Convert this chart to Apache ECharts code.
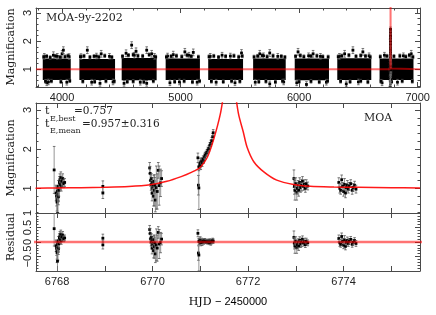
<!DOCTYPE html>
<html><head><meta charset="utf-8">
<script src="https://cdn.jsdelivr.net/npm/echarts@6/dist/echarts.min.js"></script>
<style>html,body{margin:0;padding:0;background:#fff}#c{width:436px;height:315px}</style>
</head><body><div id="c"></div>
<script>
// ---------- data ----------
// top panel: observing seasons (dense scatter blocks)
var seasonStart = [3837, 4146, 4503, 4874, 5233, 5612, 5963, 6322, 6679];
var seasonEnd   = [4073, 4447, 4798, 5163, 5527, 5887, 6252, 6609, 6965];
var seasonLo    = [0.62, 0.62, 0.61, 0.62, 0.62, 0.62, 0.61, 0.62, 0.62];
var seasonHi    = [1.38, 1.37, 1.40, 1.38, 1.37, 1.38, 1.38, 1.39, 1.38];
// top panel: outlying points at the edges of the seasons
var topOutT = [3850,3885,3927,3960,4000,4011,4040,4060,3871,
  4160,4213,4250,4290,4320,4330,4400,4430,
  4523,4540,4587,4610,4624,4660,4714,4714,4756,4780,
  4890,4910,4938,4990,5036,5070,5107,5140,
  5250,5300,5350,5420,5459,5514,
  5630,5668,5700,5752,5752,5820,5870,
  5991,5980,6062,6080,6118,6180,6230,
  6340,6384,6398,6454,6500,6538,6590,
  6700,6720,6830,6880,6946];
var topOutA = [1.46,0.55,1.50,1.46,1.55,1.68,0.54,1.45,0.52,
  1.45,1.68,0.54,1.47,0.50,1.55,1.46,0.55,
  0.50,1.57,1.86,1.50,1.64,0.54,1.68,0.50,1.55,1.46,
  1.47,0.52,1.52,0.55,1.62,1.50,1.60,0.54,
  1.46,0.54,1.50,1.47,0.52,1.58,
  0.54,1.55,1.48,1.58,0.48,1.46,0.55,
  1.62,0.52,0.46,1.48,1.55,1.46,0.54,
  1.46,1.55,0.48,1.68,0.55,1.62,1.48,
  0.52,1.50,0.54,1.48,1.55];
var topOutErr = [0.10,0.10,0.12,0.10,0.12,0.12,0.10,0.10,0.10,
  0.10,0.12,0.10,0.10,0.10,0.12,0.10,0.10,
  0.10,0.12,0.12,0.10,0.12,0.10,0.12,0.10,0.12,0.10,
  0.10,0.10,0.12,0.10,0.12,0.10,0.12,0.10,
  0.10,0.10,0.10,0.10,0.10,0.12,
  0.10,0.12,0.10,0.12,0.10,0.10,0.10,
  0.12,0.10,0.10,0.10,0.12,0.10,0.10,
  0.10,0.12,0.10,0.12,0.10,0.12,0.10,
  0.10,0.10,0.10,0.10,0.12];
// top panel: points along the ragged edges of the seasons
var topEdgeT = [3845,3870,3900,3945,3985,4025,4050,3860,3910,3990,4065,
  4155,4185,4235,4270,4310,4360,4420,4175,4275,4370,4440,
  4510,4560,4600,4640,4680,4735,4790,4550,4600,4690,4770,
  4880,4920,4965,5010,5055,5090,5150,4950,5030,5100,5160,
  5240,5280,5320,5380,5450,5490,5520,5260,5360,5430,5500,
  5620,5650,5690,5730,5780,5850,5880,5660,5720,5800,5860,
  5970,6010,6040,6100,6150,6200,6245,6000,6100,6170,6240,
  6330,6360,6420,6480,6520,6560,6600,6350,6430,6520,6580,
  6685,6740,6800,6850,6900,6930,6960,6690,6780,6870,6955];
var topEdgeA = [1.44,1.46,1.42,1.47,1.43,1.45,1.48,0.57,0.58,0.56,0.59,
  1.45,1.47,1.43,1.46,1.44,1.48,1.43,0.57,0.56,0.58,0.57,
  1.46,1.50,1.52,1.48,1.47,1.52,1.44,0.56,0.57,0.55,0.58,
  1.44,1.46,1.48,1.45,1.50,1.46,1.44,0.56,0.58,0.55,0.58,
  1.45,1.47,1.43,1.46,1.48,1.44,1.47,0.57,0.56,0.58,0.57,
  1.44,1.47,1.49,1.45,1.48,1.46,1.43,0.56,0.57,0.55,0.58,
  1.46,1.49,1.45,1.47,1.48,1.45,1.44,0.56,0.57,0.55,0.58,
  1.45,1.48,1.50,1.46,1.49,1.47,1.44,0.57,0.56,0.58,0.55,
  1.45,1.47,1.46,1.48,1.45,1.50,1.44,0.57,0.56,0.58,0.57];
var topEdgeErr = 0.06;

// event data (HJD-2450000, magnification, error, residual)
var obsT = [6767.94,6767.98,6767.99,6768.00,6768.00,6768.01,6768.02,6768.02,6768.03,6768.03,6768.04,6768.05,6768.06,6768.07,6768.08,6768.09,6768.10,6768.12,6768.14,6768.16,6768.01,
  6768.96,6768.96,
  6769.94,6769.95,6769.96,6769.97,6769.98,6769.99,6769.99,6770.00,6770.01,6770.02,6770.03,6770.04,6770.05,6770.06,6770.08,6770.10,6770.12,6770.14,6770.17,6770.19,
  6770.95,6770.96,6770.97,6770.97,6770.99,6771.00,6771.01,6771.03,6771.04,6771.06,6771.07,6771.09,6771.10,6771.12,6771.14,6771.16,6771.18,6771.20,6771.22,6771.24,6771.26,6771.27,
  6772.96,6772.97,6772.98,6773.00,6773.02,6773.03,6773.05,6773.06,6773.08,6773.10,6773.12,6773.14,6773.16,6773.18,6773.20,6773.22,6773.25,
  6773.90,6773.92,6773.94,6773.96,6773.98,6774.00,6774.02,6774.04,6774.06,6774.08,6774.10,6774.12,6774.15,6774.18,6774.20,6774.23,6774.26];
var obsA = [1.47,0.88,0.80,0.72,0.65,0.92,0.85,0.68,1.05,0.78,0.95,1.15,1.22,1.10,1.28,1.05,1.18,1.25,1.12,1.15,0.35,
  1.05,0.88,
  1.52,1.38,1.20,1.10,1.25,1.00,0.88,1.15,1.05,0.80,1.18,0.95,1.08,0.70,1.02,0.92,1.46,1.07,1.14,1.25,
  1.78,1.08,1.01,1.55,1.60,1.65,1.58,1.70,1.66,1.75,1.72,1.80,1.84,1.88,1.92,1.98,2.02,2.10,2.15,2.22,2.32,2.42,
  1.25,1.05,0.95,1.12,0.90,1.00,1.08,0.95,1.15,1.02,1.08,1.18,1.05,1.10,1.00,1.12,1.06,
  1.15,1.00,0.95,1.22,1.05,0.92,1.10,0.88,1.02,1.08,0.98,1.05,1.12,0.95,1.02,1.08,0.98];
var obsErr = [0.60,0.20,0.25,0.30,0.35,0.15,0.18,0.30,0.15,0.20,0.15,0.15,0.15,0.14,0.14,0.12,0.13,0.12,0.10,0.10,0.40,
  0.14,0.14,
  0.14,0.18,0.15,0.15,0.12,0.15,0.20,0.12,0.14,0.25,0.15,0.40,0.20,0.30,0.55,0.45,0.20,0.50,0.35,0.20,
  0.12,0.25,0.55,0.10,0.10,0.12,0.10,0.08,0.10,0.08,0.08,0.08,0.08,0.07,0.07,0.07,0.07,0.07,0.08,0.08,0.08,0.08,
  0.22,0.20,0.25,0.15,0.20,0.15,0.12,0.15,0.12,0.12,0.15,0.12,0.10,0.12,0.10,0.10,0.10,
  0.12,0.12,0.10,0.12,0.10,0.12,0.15,0.12,0.10,0.12,0.10,0.10,0.10,0.10,0.10,0.10,0.10];
var obsRes = [0.46,-0.13,-0.21,-0.29,-0.36,-0.09,-0.16,-0.33,0.04,-0.23,-0.06,0.14,0.21,0.09,0.27,0.04,0.17,0.24,0.11,0.14,-0.66,
  0.13,-0.10,
  0.43,0.29,0.11,0.01,0.16,-0.09,-0.21,0.06,-0.05,-0.30,0.08,-0.16,-0.03,-0.41,-0.10,-0.21,0.33,-0.07,-0.02,0.10,
  0.30,-0.38,-0.45,0.02,0.04,0.06,-0.03,0.05,-0.02,0.03,0.00,0.04,0.03,0.02,0.00,0.03,-0.02,0.04,-0.03,0.02,0.05,0.03,
  0.16,-0.04,-0.14,0.03,-0.19,-0.09,-0.01,-0.14,0.06,-0.07,-0.01,0.09,-0.04,0.01,-0.09,0.03,-0.03,
  0.12,-0.03,-0.08,0.19,0.02,-0.11,0.07,-0.15,-0.01,0.05,-0.05,0.02,0.09,-0.08,-0.01,0.05,-0.05];

// best-fit model curve
var modelT = [6767.55,6768.0,6768.5,6769.0,6769.5,6769.95,6770.3,6770.6,6770.8,6771.0,6771.15,6771.28,6771.42,6771.5,6771.6,6771.7,6771.8,6771.9,6771.98,6772.12,6772.33,6772.6,6772.95,6773.3,6773.8,6774.3,6775.0,6775.6];
var modelA = [1.005,1.01,1.015,1.025,1.045,1.09,1.18,1.30,1.40,1.54,1.80,2.25,2.9,3.5,4.3,3.7,2.9,2.44,2.05,1.68,1.42,1.21,1.10,1.055,1.035,1.025,1.015,1.01];
var baseT = [3780, 7020];      // baseline ends for the season plot
var baseA = [1, 1];
var resLineT = [6767.5, 6775.7];
var resLineV = [0, 0];

// axis ticks and labels
var topXMajor = [4000,5000,6000,7000];
var topXMinor = [3800,4200,4400,4600,4800,5200,5400,5600,5800,6200,6400,6600,6800];
var zoomXTicks = [6768,6769,6770,6771,6772,6773,6774,6775];
var zoomXLabels = [6768,6770,6772,6774];
var magYMajor = [1,2,3];
var magYMinor = [0.4,0.6,0.8,1.2,1.4,1.6,1.8,2.2,2.4,2.6,2.8];
var resYMajor = [-1,-0.5,0,0.5,1];
var resYMinor = [-0.9,-0.8,-0.7,-0.6,-0.4,-0.3,-0.2,-0.1,0.1,0.2,0.3,0.4,0.6,0.7,0.8,0.9];

// ---------- chart ----------
var AX = '#4a4a4a';
var TICKFONT = 'Liberation Sans';
function fmt(v){ return String(v).replace('-', '\u2212'); }

var xAxes = [], yAxes = [];
function addX(g, min, max, majors, minors, labelVals){
  var first = xAxes.length;
  ['bottom','top'].forEach(function(pos){
    xAxes.push({type:'value', gridIndex:g, position:pos, min:min, max:max, silent:true,
      splitLine:{show:false},
      axisLine:{show:true, onZero:false, lineStyle:{color:AX, width:1}},
      axisTick:{show:true, inside:true, length:5, customValues:majors, lineStyle:{color:AX, width:1}},
      axisLabel:{show: pos==='bottom' && !!labelVals, customValues: labelVals || majors, margin:5,
        fontFamily:TICKFONT, fontSize:11, color:'#222', formatter:fmt}});
    if (minors && minors.length) xAxes.push({type:'value', gridIndex:g, position:pos, min:min, max:max, silent:true,
      splitLine:{show:false}, axisLine:{show:false},
      axisTick:{show:true, inside:true, length:2.5, customValues:minors, lineStyle:{color:AX, width:1}},
      axisLabel:{show:false}});
  });
  return first;
}
function addY(g, min, max, majors, minors){
  var first = yAxes.length;
  ['left','right'].forEach(function(pos){
    yAxes.push({type:'value', gridIndex:g, position:pos, min:min, max:max, silent:true,
      splitLine:{show:false},
      axisLine:{show:true, onZero:false, lineStyle:{color:AX, width:1}},
      axisTick:{show:true, inside:true, length:5, customValues:majors, lineStyle:{color:AX, width:1}},
      axisLabel:{show: pos==='left', customValues: majors, rotate:90, margin:3,
        fontFamily:TICKFONT, fontSize:11, color:'#222', formatter:fmt}});
    yAxes.push({type:'value', gridIndex:g, position:pos, min:min, max:max, silent:true,
      splitLine:{show:false}, axisLine:{show:false},
      axisTick:{show:true, inside:true, length:2.5, customValues:minors, lineStyle:{color:AX, width:1}},
      axisLabel:{show:false}});
  });
  return first;
}

var x0 = addX(0, 3780, 7020, topXMajor, topXMinor, topXMajor);
var y0 = addY(0, 0.37, 3.18, magYMajor, magYMinor);
var x1 = addX(1, 6767.56, 6775.6, zoomXTicks, null, null);
var y1 = addY(1, 0.37, 3.18, magYMajor, magYMinor);
var x2 = addX(2, 6767.56, 6775.6, zoomXTicks, null, zoomXLabels);
var y2 = addY(2, -1, 1, resYMajor, resYMinor);

function clipOf(params){
  var c = params.coordSys;
  return {type:'rect', shape:{x:c.x, y:c.y, width:c.width, height:c.height}};
}
function errRender(params, api){
  var t = api.value(0), v = api.value(1), e = api.value(2);
  var p = api.coord([t, v]), lo = api.coord([t, v - e]), hi = api.coord([t, v + e]);
  return {type:'group', clipPath: clipOf(params), children:[
    {type:'line', shape:{x1:lo[0], y1:lo[1], x2:hi[0], y2:hi[1]}, style:{stroke:'#7a7a7a', lineWidth:0.8}},
    {type:'line', shape:{x1:lo[0]-1.3, y1:lo[1], x2:lo[0]+1.3, y2:lo[1]}, style:{stroke:'#555', lineWidth:0.8}},
    {type:'line', shape:{x1:hi[0]-1.3, y1:hi[1], x2:hi[0]+1.3, y2:hi[1]}, style:{stroke:'#555', lineWidth:0.8}},
    {type:'rect', shape:{x:p[0]-1.4, y:p[1]-1.4, width:2.8, height:2.8}, style:{fill:'#000'}}
  ]};
}
function blobRender(params, api){
  var a = api.coord([api.value(0), api.value(3)]);
  var b = api.coord([api.value(1), api.value(2)]);
  return {type:'rect', clipPath: clipOf(params), shape:{x:a[0], y:a[1], width:b[0]-a[0], height:b[1]-a[1]}, style:{fill:'#000'}};
}

var seasons = seasonStart.map(function(s, i){ return [s, seasonEnd[i], seasonLo[i], seasonHi[i]]; });
var topPts = topOutT.map(function(t, i){ return [t, topOutA[i], topOutErr[i]]; })
  .concat(topEdgeT.map(function(t, i){ return [t, topEdgeA[i], topEdgeErr]; }))
  .concat(obsT.map(function(t, i){ return [t, obsA[i], obsErr[i]]; }));
var magPts = obsT.map(function(t, i){ return [t, obsA[i], obsErr[i]]; });
var resPts = obsT.map(function(t, i){ return [t, obsRes[i], obsErr[i]]; });
var model = modelT.map(function(t, i){ return [t, modelA[i]]; });
var topModel = [[baseT[0], baseA[0]]].concat(model).concat([[baseT[1], baseA[1]]]);
var resLine = resLineT.map(function(t, i){ return [t, resLineV[i]]; });

function txt(x, y, s, size, align, rot){
  var o = {type:'text', x:x, y:y, silent:true, style:{text:s, font:size + 'px "DejaVu Serif"', fill:'#222',
    align:align, verticalAlign:'middle', textAlign:align, textVerticalAlign:'middle'}};
  if (rot) o.rotation = rot;
  return o;
}

var option = {
  animation: false,
  backgroundColor: '#fff',
  grid: [
    {left:36, right:16, top:8, height:79},
    {left:36, right:16, top:103, height:110},
    {left:36, right:16, top:213, height:58}
  ],
  xAxis: xAxes,
  yAxis: yAxes,
  series: [
    {type:'custom', xAxisIndex:x0, yAxisIndex:y0, data:seasons, renderItem:blobRender, silent:true},
    {type:'custom', xAxisIndex:x0, yAxisIndex:y0, data:topPts, renderItem:errRender, silent:true},
    {type:'line', xAxisIndex:x0, yAxisIndex:y0, data:topModel, showSymbol:false, silent:true,
      lineStyle:{color:'rgba(255,0,0,0.55)', width:2}},
    {type:'custom', xAxisIndex:x1, yAxisIndex:y1, data:magPts, renderItem:errRender, silent:true},
    {type:'line', xAxisIndex:x1, yAxisIndex:y1, data:model, showSymbol:false, smooth:0.3, silent:true,
      lineStyle:{color:'rgba(255,0,0,0.9)', width:1.5}},
    {type:'custom', xAxisIndex:x2, yAxisIndex:y2, data:resPts, renderItem:errRender, silent:true},
    {type:'line', xAxisIndex:x2, yAxisIndex:y2, data:resLine, showSymbol:false, silent:true,
      lineStyle:{color:'rgba(255,0,0,0.55)', width:2.5}}
  ],
  graphic: [
    txt(11, 47, 'Magnification', 11, 'center', Math.PI/2),
    txt(11, 158, 'Magnification', 11, 'center', Math.PI/2),
    txt(11, 237, 'Residual', 11, 'center', Math.PI/2),
    txt(46, 18, 'MOA-9y-2202', 11, 'left'),
    txt(378, 118, 'MOA', 11, 'center'),
    txt(45, 111.5, 't', 11, 'left'),
    txt(50, 119, 'E,best', 8, 'left'),
    txt(74, 111.5, '=0.757', 10.5, 'left'),
    txt(45, 124.5, 't', 11, 'left'),
    txt(50, 131, 'E,mean', 8, 'left'),
    txt(82, 124.5, '=0.957\u00b10.316', 10.5, 'left'),
    {type:'text', x:228, y:302, silent:true, style:{text:'{a|HJD} {b|\u2212 2450000}',
      rich:{a:{fontFamily:'DejaVu Serif', fontSize:11, color:'#222'}, b:{fontFamily:'Liberation Sans', fontSize:11, color:'#222'}},
      align:'center', verticalAlign:'middle', textAlign:'center', textVerticalAlign:'middle'}}
  ]
};
var chart = echarts.init(document.getElementById('c'), null, {renderer:'canvas'});
chart.setOption(option);
</script></body></html>
